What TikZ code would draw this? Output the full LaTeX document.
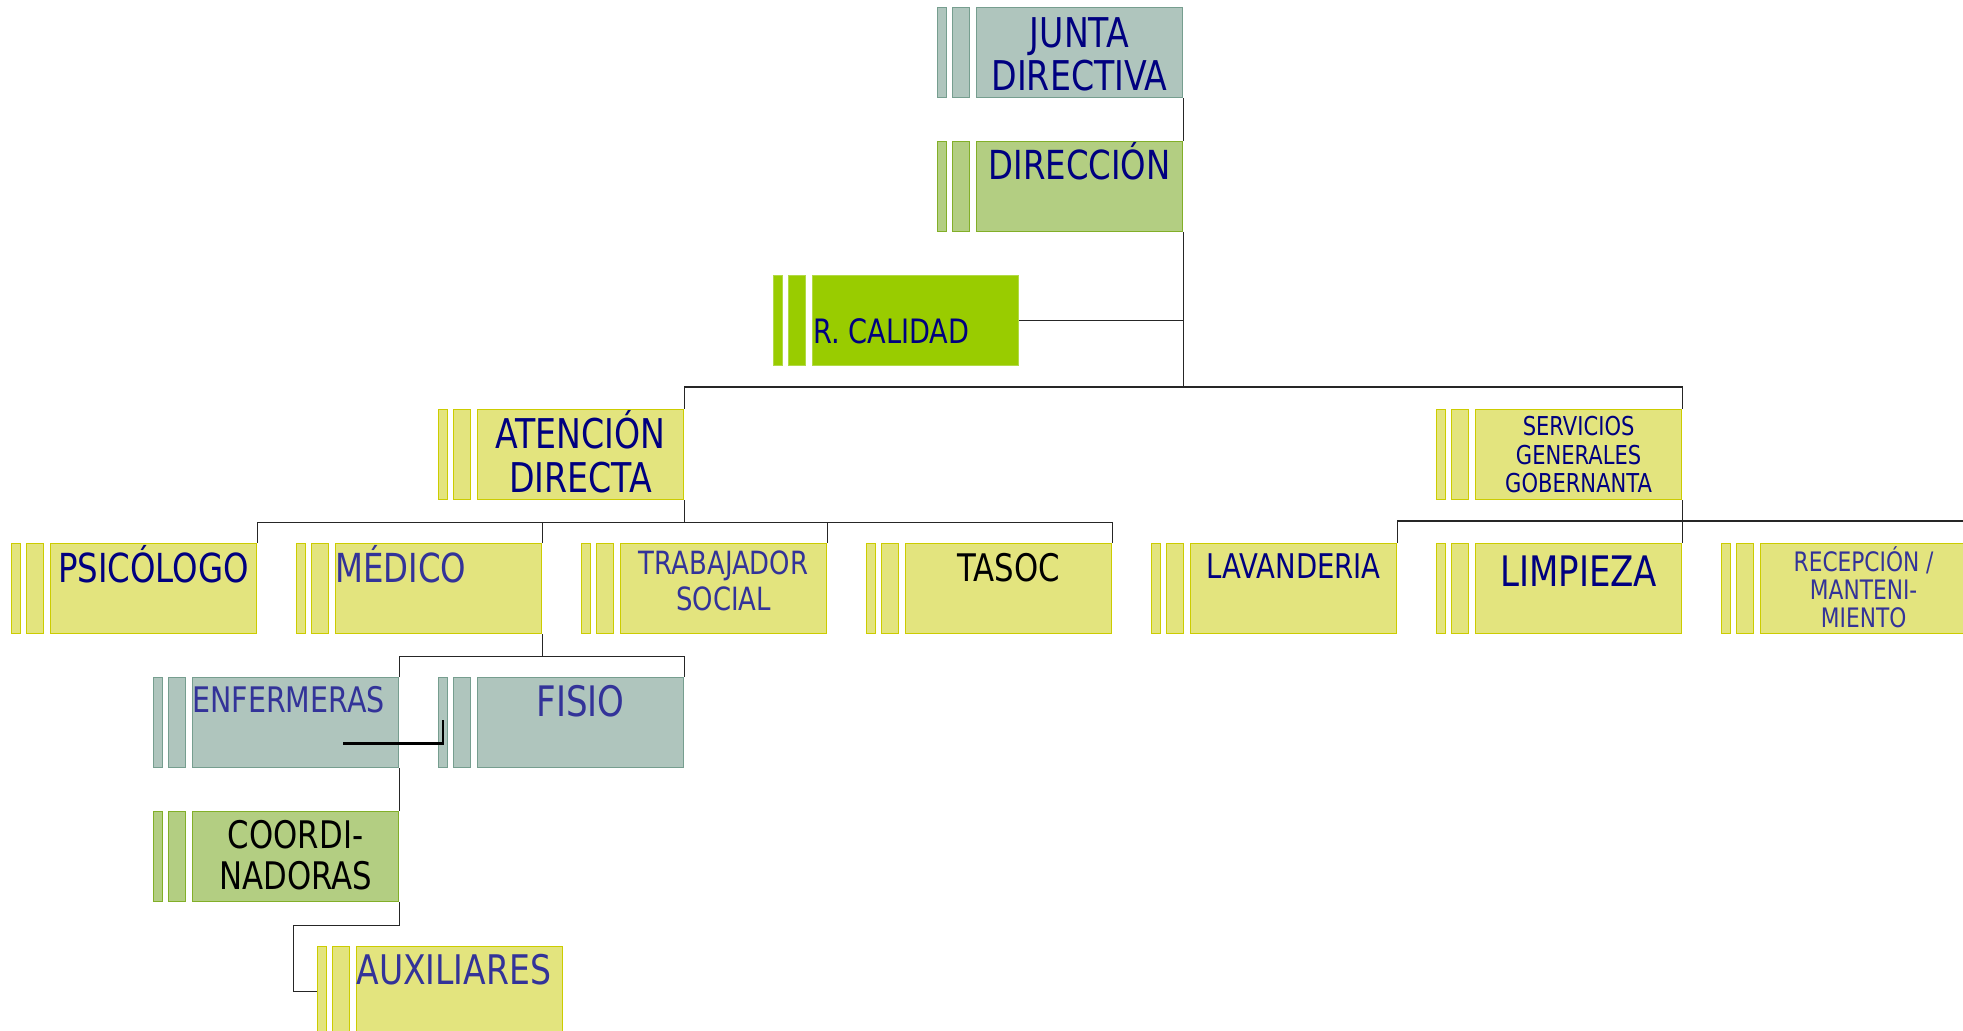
\documentclass[tikz,border=0pt]{standalone}
\usepackage{fontspec}
\setmainfont{DejaVu Sans}[FakeStretch=0.81]
\usetikzlibrary{calc}

\definecolor{grisverde}{RGB}{175,197,189}
\definecolor{grisborde}{RGB}{118,158,143}
\definecolor{verdeclaro}{RGB}{179,206,130}
\definecolor{verdeborde}{RGB}{130,175,40}
\definecolor{lima}{RGB}{153,204,0}
\definecolor{limaborde}{RGB}{178,218,70}
\definecolor{amarillo}{RGB}{227,228,126}
\definecolor{amarilloborde}{RGB}{204,204,0}
\definecolor{marino}{RGB}{0,0,128}
\definecolor{azulclaro}{RGB}{51,51,153}

\newcommand{\tam}[2]{\fontsize{#1}{#2}\selectfont}

\tikzset{
  caja/.style={draw, anchor=north west, minimum width=103pt, minimum height=45pt, inner sep=0pt, line width=0.6pt},
  barra/.style={draw, anchor=north west, minimum height=45pt, inner sep=0pt, line width=0.6pt},
  gris/.style={fill=grisverde, draw=grisborde},
  verde/.style={fill=verdeclaro, draw=verdeborde},
  calidad/.style={fill=lima, draw=limaborde},
  ama/.style={fill=amarillo, draw=amarilloborde},
  texto/.style={inner sep=0pt, align=center, anchor=base, text=marino},
  linea/.style={draw=black!85, line width=0.65pt},
}

% one post: two thin bars and the box
\newcommand{\puesto}[4]{%
  \node[barra, minimum width=4.5pt, #4] (#1-a) at (#2-39,#3) {};
  \node[barra, minimum width=8.5pt, #4] (#1-b) at (#2-24,#3) {};
  \node[caja, #4] (#1) at (#2,#3) {};
}

\begin{document}
\begin{tikzpicture}[x=0.5pt, y=-0.5pt]
		\path[use as bounding box] (0,0) rectangle (1963,1031);
		% the top of the tree
		\puesto{junta}{976}{7}{gris}
		\puesto{dir}{976}{141}{verde}
		\puesto{cal}{812}{275}{calidad}
		\node[texto, font=\tam{20.5}{21.5}] (junta-t) at ($(junta.north)+(0,84)$) {JUNTA\\DIRECTIVA};
		\node[texto, font=\tam{20}{21}] (dir-t) at ($(dir.north)+(0,39)$) {DIRECCIÓN};
		\node[texto, anchor=base west, font=\tam{16.8}{18}] (cal-t) at ($(cal.north west)+(1,69)$) {R. CALIDAD};
		% the two areas
		\puesto{aten}{477}{409}{ama}
		\puesto{serv}{1475}{409}{ama}
		\node[texto, font=\tam{20.5}{22}] (aten-t) at ($(aten.north)+(0,84)$) {ATENCIÓN\\DIRECTA};
		\node[texto, font=\tam{13}{14.25}] (serv-t) at ($(serv.north)+(0,84)$) {SERVICIOS\\GENERALES\\GOBERNANTA};
		% the row of posts
		\puesto{psi}{50}{543}{ama}
		\puesto{med}{335}{543}{ama}
		\puesto{trab}{620}{543}{ama}
		\puesto{tasoc}{905}{543}{ama}
		\puesto{lav}{1190}{543}{ama}
		\puesto{limp}{1475}{543}{ama}
		\puesto{recep}{1760}{543}{ama}
		\node[texto, font=\tam{20}{22}] (psi-t) at ($(psi.north)+(0,39)$) {PSICÓLOGO};
		\node[texto, anchor=base west, text=azulclaro, font=\tam{20}{22}] (med-t) at ($(med.north west)+(0,39)$) {MÉDICO};
		\node[texto, text=azulclaro, font=\tam{16}{18}] (trab-t) at ($(trab.north)+(0,67)$) {TRABAJADOR\\SOCIAL};
		\node[texto, text=black, font=\tam{19}{21}] (tasoc-t) at ($(tasoc.north)+(0,38)$) {TASOC};
		\node[texto, font=\tam{17}{19}] (lav-t) at ($(lav.north)+(0,35)$) {LAVANDERIA};
		\node[texto, font=\tam{21}{23}] (limp-t) at ($(limp.north)+(0,43)$) {LIMPIEZA};
		\node[texto, text=azulclaro, font=\tam{13.4}{14}] (recep-t) at ($(recep.north)+(0,84)$) {RECEPCIÓN /\\MANTENI-\\MIENTO};
		% under the doctor
		\puesto{enf}{192}{677}{gris}
		\puesto{fisio}{477}{677}{gris}
		\puesto{coord}{192}{811}{verde}
		\puesto{aux}{356}{946}{ama}
		\node[texto, anchor=base west, text=azulclaro, font=\tam{17.6}{19}] (enf-t) at ($(enf.north west)+(0,35)$) {ENFERMERAS};
		\node[texto, text=azulclaro, font=\tam{21}{23}] (fisio-t) at ($(fisio.north)+(0,39)$) {FISIO};
		\node[texto, text=black, font=\tam{19}{20.5}] (coord-t) at ($(coord.north)+(0,78)$) {COORDI-\\NADORAS};
		\node[texto, anchor=base west, text=azulclaro, font=\tam{20.4}{22}] (aux-t) at ($(aux.north west)+(0,38)$) {AUXILIARES};
		% connectors
		\coordinate (bus1) at ($(aten.north east)+(0,-22)$);
		\draw[linea] (junta.south east) -- (dir.north east);
		\draw[linea] (dir.south east) -- (dir.south east |- bus1);
		\draw[linea] (cal.east) -- (cal.east -| dir.south east);
		\draw[linea] (aten.north east) -- (bus1) -| (serv.north east);
		\draw[linea] (aten.south east) -- ++(0,22) coordinate (bus2);
		\draw[linea] (psi.north east) |- (bus2) -| (tasoc.north east);
		\draw[linea] (med.north east) -- (med.north east |- bus2);
		\draw[linea] (trab.north east) -- (trab.north east |- bus2);
		\draw[linea] (serv.south east) -- (limp.north east);
		\draw[linea] (lav.north east) -- ++(0,-22) -| (recep.north east);
		\draw[linea] (med.south east) -- ++(0,22) coordinate (bus3);
		\draw[linea] (enf.north east) |- (bus3) -| (fisio.north east);
		\draw[linea] (enf.south east) -- (coord.north east);
		\draw[linea] (coord.south east) -- ++(0,23) -- ++(-106,0) |- (aux-a.west);
		\draw[line width=1.3pt] ($(enf.south east)+(-56,-25)$) -| ($(fisio-a.center)+(0,-3)$);
\end{tikzpicture}
\end{document}
